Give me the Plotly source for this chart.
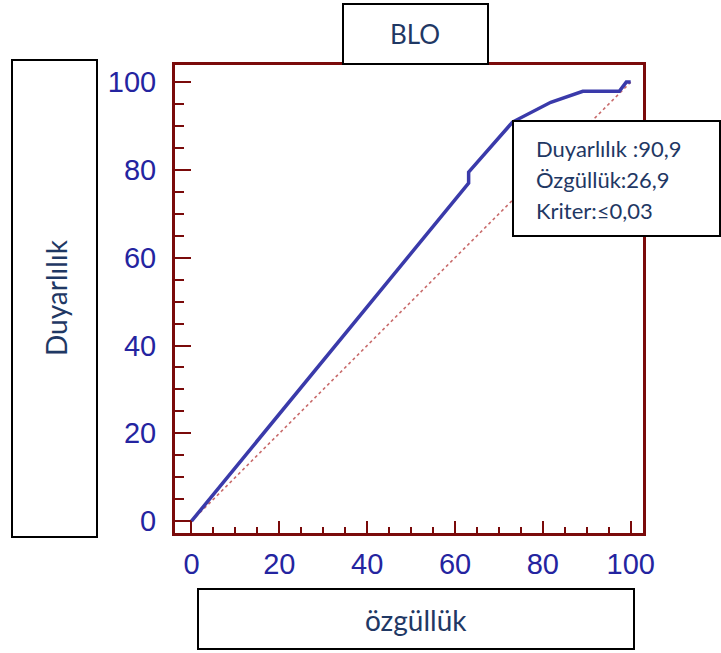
import plotly.graph_objects as go

# ---- data ----
fpr = [0, 63.1, 63.1, 73.1, 81.8, 89.1, 97.4, 99.0, 100]      # 100 - özgüllük
tpr = [0, 77.0, 79.5, 90.9, 95.4, 97.9, 97.9, 100, 100]       # duyarlılık
diag_x = [0, 100]
diag_y = [0, 100]
tick_vals = [0, 20, 40, 60, 80, 100]
title_text = "BLO"
x_label = "özgüllük"
y_label = "Duyarlılık"
note_lines = ["Duyarlılık :90,9", "Özgüllük:26,9", "Kriter:≤0,03"]

W, H = 721, 653
L, R, T, B = 175, 643, 65, 533
PW, PH = R - L, B - T

def px(x):
    return (x - L) / PW

def py(y):
    return (B - y) / PH

MAROON = "#7a0a0a"
TICKFONT = dict(family="Liberation Sans, Arial", size=29, color="#2424a0")
NAVY = "#1f3864"

fig = go.Figure()
fig.add_trace(go.Scatter(x=diag_x, y=diag_y, mode="lines",
                         line=dict(color="#c86a6a", width=1.6, dash="dot"),
                         hoverinfo="skip", showlegend=False))
fig.add_trace(go.Scatter(x=fpr, y=tpr, mode="lines",
                         line=dict(color="#3a3aaa", width=3.5),
                         showlegend=False))

axis_common = dict(showgrid=False, zeroline=False, showline=True, mirror=True,
                   linecolor=MAROON, linewidth=3, ticks="inside",
                   tickcolor=MAROON, tickwidth=2, tickvals=tick_vals,
                   tickfont=TICKFONT)

fig.update_xaxes(range=[-3.75, 102.8], ticklen=12, ticklabelstandoff=3,
                 minor=dict(ticks="inside", dtick=5, ticklen=6,
                            tickcolor=MAROON, tickwidth=2),
                 **axis_common)
fig.update_yaxes(range=[-2.7, 103.9], ticklen=16, ticklabelstandoff=10,
                 minor=dict(ticks="inside", dtick=5, ticklen=9,
                            tickcolor=MAROON, tickwidth=2),
                 **axis_common)

shapes = []
annotations = []

def box(x0, y0, x1, y1):
    shapes.append(dict(type="rect", xref="paper", yref="paper",
                       x0=px(x0), x1=px(x1), y0=py(y1), y1=py(y0),
                       line=dict(color="black", width=2), fillcolor="white",
                       layer="above"))

def label(text, x, y, size, angle=0, xanchor="center", align="center"):
    annotations.append(dict(text=text, xref="paper", yref="paper",
                            x=px(x), y=py(y), xanchor=xanchor, yanchor="middle",
                            showarrow=False, textangle=angle, align=align,
                            font=dict(family="Lato", size=size, color=NAVY)))

# title box
box(343, 4, 488, 64)
label(title_text, 415, 34, 26)
# y label box
box(12, 60, 97, 537)
label(y_label, 56, 298, 28, angle=-90)
# x label box
box(198, 589, 634, 649)
label(x_label, 416, 620, 28)
# note box
box(513, 121, 720, 236)
for i, line in enumerate(note_lines):
    label(line, 534, 148 + 31 * i, 22, xanchor="left", align="left")

fig.update_layout(width=W, height=H, margin=dict(l=L, r=W - R, t=T, b=H - B),
                  paper_bgcolor="white", plot_bgcolor="white",
                  shapes=shapes, annotations=annotations)

fig.write_html("out.html")
